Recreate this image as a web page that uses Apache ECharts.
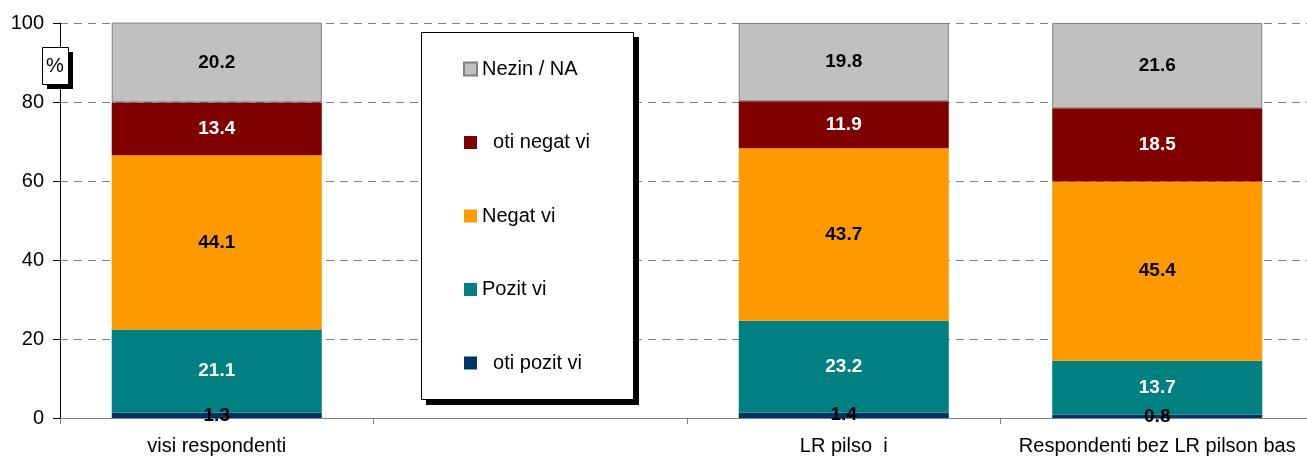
<!DOCTYPE html>
<html><head><meta charset="utf-8">
<script src="https://cdn.jsdelivr.net/npm/echarts@6/dist/echarts.min.js"></script>
<style>html,body{margin:0;padding:0;background:#fff;overflow:hidden;width:1307px;height:460px}#c{width:1320px;height:460px}</style>
</head><body><div id="c"></div>
<script>
const categories = ['visi respondenti', '', 'LR pilso  i', 'Respondenti bez LR pilson bas'];
const otiPozitivi = [1.3, null, 1.4, 0.8];
const pozitivi = [21.1, null, 23.2, 13.7];
const negativi = [44.1, null, 43.7, 45.4];
const otiNegativi = [13.4, null, 11.9, 18.5];
const nezinNA = [20.2, null, 19.8, 21.6];
const seriesNames = ['  oti pozit vi', 'Pozit vi', 'Negat vi', '  oti negat vi', 'Nezin / NA'];
const yTicks = [0, 20, 40, 60, 80, 100];

const colors = ['#003366', '#008080', '#FF9900', '#800000', '#C0C0C0'];
const labelColors = ['#000', '#fff', '#000', '#fff', '#000'];
const dataSets = [otiPozitivi, pozitivi, negativi, otiNegativi, nezinNA];
const FONT = '"Liberation Sans", Arial, sans-serif';

const chart = echarts.init(document.getElementById('c'));
chart.setOption({
  animation: false,
  textStyle: { fontFamily: FONT },
  grid: { left: 60, top: 23, width: 1254, height: 395 },
  legend: {
    orient: 'vertical', left: 421, top: 32,
    data: seriesNames.slice().reverse(),
    itemWidth: 13, itemHeight: 13, itemGap: 53.5,
    icon: 'rect',
    padding: [27, 38, 27, 42],
    textStyle: { fontSize: 20, color: '#000', fontFamily: FONT },
    selectedMode: false,
    z: 20
  },
  xAxis: {
    type: 'category', data: categories,
    axisLine: { lineStyle: { color: '#808080', width: 1 } },
    axisTick: { show: true, interval: 0, length: 6, lineStyle: { color: '#808080' } },
    axisLabel: { interval: 0, fontSize: 20, color: '#000', margin: 18, fontFamily: FONT }
  },
  yAxis: {
    type: 'value', min: 0, max: 100, interval: 20,
    axisLine: { show: true, lineStyle: { color: '#000' } },
    axisTick: { show: true, length: 7, inside: false, lineStyle: { color: '#000' } },
    axisLabel: { fontSize: 20, color: '#000', margin: 16, fontFamily: FONT,
      formatter: v => yTicks.includes(v) ? String(v) : '' },
    splitLine: { show: true, lineStyle: { color: '#808080', type: [8, 6], width: 1 } }
  },
  graphic: [
    { type: 'rect', left: 47, top: 52, shape: { width: 26, height: 37 }, style: { fill: '#000' }, z: 10 },
    { type: 'rect', left: 42, top: 47, shape: { width: 26, height: 37 }, style: { fill: '#fff', stroke: '#000', lineWidth: 1 }, z: 11 },
    { type: 'text', x: 55, y: 66, style: { text: '%', font: '20px ' + FONT, fill: '#000', align: 'center', verticalAlign: 'middle' }, z: 12 },
    { type: 'rect', x: 426, y: 37, shape: { width: 213, height: 368 }, style: { fill: '#000' }, z: 10 },
    { type: 'rect', x: 421.5, y: 32.5, shape: { width: 212, height: 367 }, style: { fill: '#fff', stroke: '#000', lineWidth: 1 }, z: 11 }
  ],
  series: dataSets.map((d, i) => ({
    name: seriesNames[i], type: 'bar', stack: 'total', data: d,
    barWidth: '67%',
    itemStyle: i === 4 ? { color: colors[i], borderColor: '#808080', borderWidth: 1 } : { color: colors[i] },
    label: {
      show: true, position: 'inside', color: labelColors[i],
      fontSize: 19, fontWeight: 'bold', fontFamily: FONT,
      formatter: p => p.value == null ? '' : p.value.toFixed(1)
    }
  }))
});
</script></body></html>
